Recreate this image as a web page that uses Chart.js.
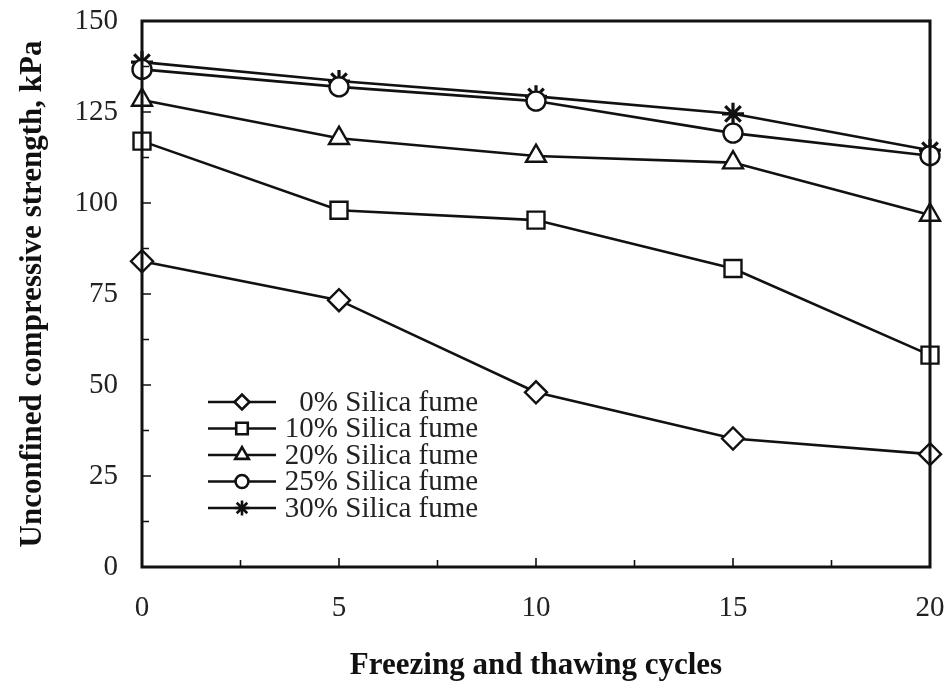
<!DOCTYPE html>
<html>
<head>
<meta charset="utf-8">
<script src="https://cdn.jsdelivr.net/npm/chart.js@4.4.0/dist/chart.umd.min.js"></script>
<style>
  html, body { margin: 0; padding: 0; background: #fff; }
  #wrap { width: 950px; height: 683px; }
</style>
</head>
<body>
<div id="wrap"><canvas id="chart" width="950" height="683"></canvas></div>
<script>
const cycles = [0, 5, 10, 15, 20];
const seriesLabels = ['0%', '10%', '20%', '25%', '30%'];
const sf0 = [84, 73.3, 48, 35.3, 31];
const sf10 = [117, 98, 95.3, 82, 58.2];
const sf20 = [128.3, 117.8, 112.9, 111.1, 96.7];
const sf25 = [136.7, 131.9, 128, 119.2, 113];
const sf30 = [138.7, 133.5, 129.3, 124.5, 114.5];
const yTicks = [0, 25, 50, 75, 100, 125, 150];
const xTicks = [0, 5, 10, 15, 20];

const serif = "'Liberation Serif', 'Times New Roman', serif";
const pointStyles = ['rectRot', 'rect', 'triangle', 'circle', 'star'];
const pointSizes = [11, 12, 11.5, 9.5, 11];
const pointLines = [2.4, 2.4, 2.4, 2.4, 3.2];

const allValues = [sf0, sf10, sf20, sf25, sf30];

const datasets = allValues.map((vals, i) => ({
  label: seriesLabels[i] + ' Silica fume',
  data: cycles.map((c, j) => ({ x: c, y: vals[j] })),
  borderColor: '#111',
  borderWidth: 2.6,
  pointStyle: pointStyles[i],
  pointRadius: pointSizes[i],
  pointBackgroundColor: '#fff',
  pointBorderColor: '#111',
  pointBorderWidth: pointLines[i],
  tension: 0,
  clip: false,
}));

// frame + inward ticks
const frameTicks = {
  id: 'frameTicks',
  afterDatasetsDraw(chart) {
    const { ctx, chartArea: a, scales } = chart;
    ctx.save();
    ctx.strokeStyle = '#111';
    ctx.lineWidth = 3;
    ctx.strokeRect(a.left, a.top, a.right - a.left, a.bottom - a.top);
    ctx.lineWidth = 1.6;
    ctx.beginPath();
    for (let v = 2.5; v < 20; v += 2.5) {
      const px = scales.x.getPixelForValue(v);
      const len = v % 5 === 0 ? 9 : 7;
      ctx.moveTo(px, a.bottom);
      ctx.lineTo(px, a.bottom - len);
    }
    for (let v = 12.5; v < 150; v += 12.5) {
      const py = scales.y.getPixelForValue(v);
      const len = v % 25 === 0 ? 9 : 7;
      ctx.moveTo(a.left, py);
      ctx.lineTo(a.left + len, py);
    }
    ctx.stroke();
    ctx.restore();
  },
};

// legend drawn as line + marker + label
const sampleLegend = {
  id: 'sampleLegend',
  afterDraw(chart) {
    const { ctx } = chart;
    const x0 = 208;
    const x1 = 276;
    const y0 = 402;
    const step = 26.5;
    ctx.save();
    chart.data.datasets.forEach((ds, i) => {
      const y = y0 + i * step;
      ctx.strokeStyle = '#111';
      ctx.lineWidth = 2.6;
      ctx.beginPath();
      ctx.moveTo(x0, y);
      ctx.lineTo(x1, y);
      ctx.stroke();
      ctx.fillStyle = '#fff';
      Chart.helpers.drawPoint(ctx, {
        pointStyle: ds.pointStyle,
        radius: ds.pointRadius * 0.68,
        rotation: 0,
        borderWidth: ds.pointBorderWidth * 0.9,
      }, (x0 + x1) / 2, y);
      ctx.fillStyle = '#222';
      ctx.font = '29px ' + serif;
      ctx.textBaseline = 'middle';
      ctx.textAlign = 'right';
      ctx.fillText(seriesLabels[i], 338, y + 1);
      ctx.textAlign = 'left';
      ctx.fillText(' Silica fume', 338, y + 1);
    });
    ctx.restore();
  },
};

new Chart(document.getElementById('chart'), {
  type: 'line',
  data: { datasets },
  options: {
    responsive: false,
    animation: false,
    layout: { padding: { left: 0, right: 20, top: 21, bottom: 0 } },
    plugins: {
      legend: { display: false },
      tooltip: { enabled: false },
    },
    scales: {
      x: {
        type: 'linear',
        min: 0,
        max: 20,
        afterBuildTicks(scale) { scale.ticks = xTicks.map(v => ({ value: v })); },
        afterFit(scale) {
          scale.height = 116;
          scale.paddingLeft = 0;
          scale.paddingRight = 0;
        },
        grid: { display: false, drawTicks: false },
        border: { display: false },
        ticks: { color: '#222', font: { family: serif, size: 29 }, padding: 24, maxRotation: 0 },
        title: {
          display: true,
          text: 'Freezing and thawing cycles',
          color: '#111',
          font: { family: serif, size: 31, weight: 'bold' },
          padding: { top: 17, bottom: -2 },
        },
      },
      y: {
        min: 0,
        max: 150,
        afterBuildTicks(scale) { scale.ticks = yTicks.map(v => ({ value: v })); },
        afterFit(scale) {
          scale.width = 142;
          scale.paddingTop = 0;
          scale.paddingBottom = 0;
        },
        grid: { display: false, drawTicks: false },
        border: { display: false },
        ticks: { color: '#222', font: { family: serif, size: 29 }, padding: 24 },
        title: {
          display: true,
          text: 'Unconfined compressive strength, kPa',
          color: '#111',
          font: { family: serif, size: 31, weight: 'bold' },
          padding: { top: 14, bottom: 8 },
        },
      },
    },
  },
  plugins: [frameTicks, sampleLegend],
});
</script>
</body>
</html>
